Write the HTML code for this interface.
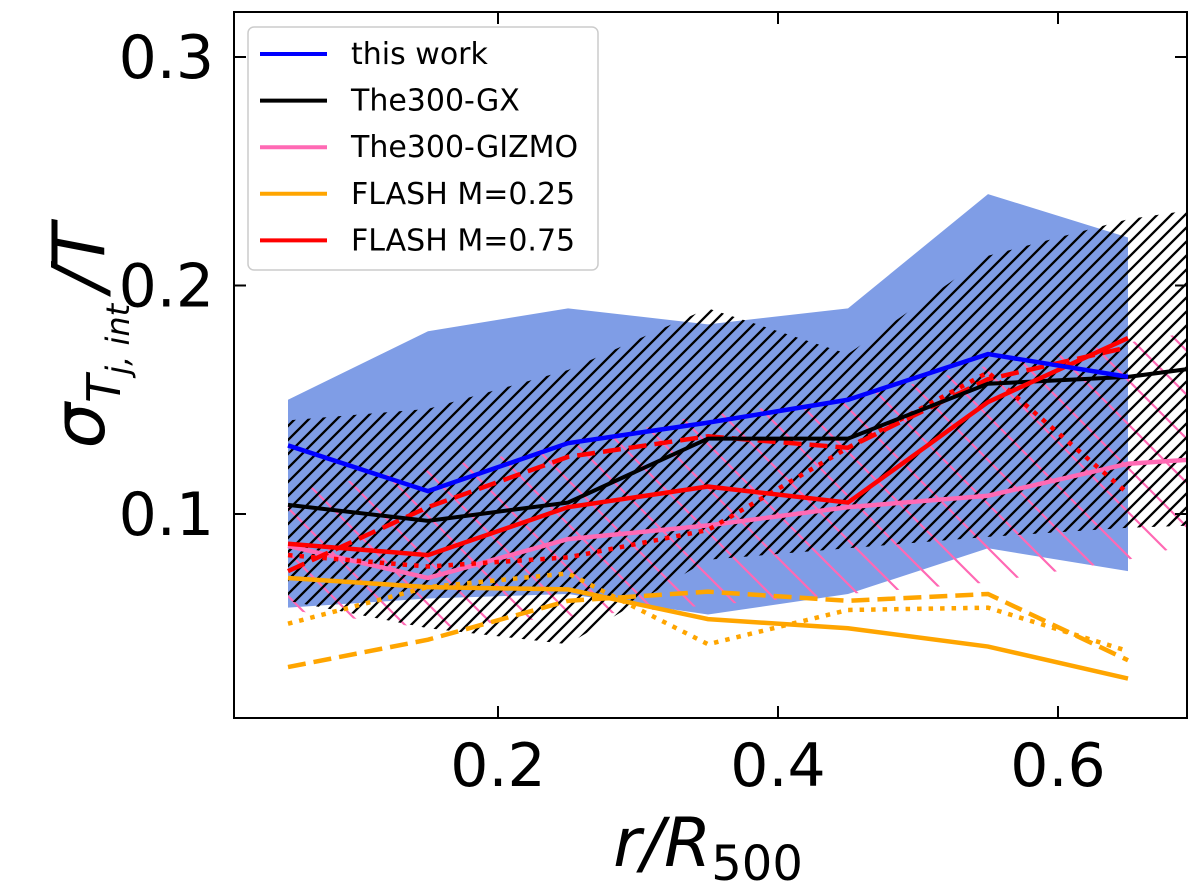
<!DOCTYPE html>
<html><head><meta charset="utf-8"><style>
body{margin:0;background:#fff;width:1200px;height:885px;overflow:hidden}
svg{font-family:"DejaVu Sans","Liberation Sans",sans-serif}
</style></head><body>
<svg id="chart" width="1200" height="885">
<defs>
<pattern id="hatchBlack" patternUnits="userSpaceOnUse" width="14" height="14"><path d="M-2,2 l4,-4 M0,14 l14,-14 M12,16 l4,-4" stroke="#000" stroke-width="2.3"/></pattern>
<pattern id="hatchPink" patternUnits="userSpaceOnUse" width="44" height="44"><path d="M-11,33 l22,22 M0,0 l44,44 M33,-11 l22,22" stroke="#ff69b4" stroke-width="2.2"/></pattern>
<clipPath id="plotClip"><rect x="234" y="12" width="953" height="706"/></clipPath>
</defs>
<g id="bands" clip-path="url(#plotClip)"></g>
<g id="lines" clip-path="url(#plotClip)"></g>
<rect x="234" y="12" width="953" height="706" fill="none" stroke="#000" stroke-width="2"/>
<g id="axes"></g>
<text x="0" y="0" transform="translate(104,336) rotate(-90)" text-anchor="middle" font-size="72" font-style="italic">σ<tspan font-size="46" dy="16">T</tspan><tspan font-size="32" dy="9">j, int</tspan><tspan font-size="72" dy="-25" dx="12">/T</tspan></text>
<text x="708" y="866" text-anchor="middle" font-size="68" font-style="italic">r/R<tspan font-size="48" dy="14" font-style="normal">500</tspan></text>
<g id="legend">
<rect x="248" y="27" width="350" height="243" rx="6" fill="#fff" fill-opacity="0.85" stroke="#ccc" stroke-width="1.5"/>
</g>
</svg>
<script>
const rVals=[0.05,0.15,0.25,0.35,0.45,0.55,0.65];
const rExt=[0.05,0.15,0.25,0.35,0.45,0.55,0.65,0.75];
const thisWork=[0.130,0.110,0.131,0.140,0.150,0.170,0.160];
const thisWorkUp=[0.150,0.180,0.190,0.183,0.190,0.240,0.221];
const thisWorkLo=[0.059,0.063,0.065,0.056,0.065,0.085,0.075];
const gx=[0.104,0.097,0.105,0.133,0.133,0.157,0.160,0.168];
const gxUp=[0.141,0.146,0.163,0.190,0.170,0.213,0.229,0.238];
const gxLo=[0.062,0.050,0.043,0.080,0.085,0.090,0.094,0.096];
const gizmo=[0.086,0.072,0.089,0.095,0.103,0.108,0.122,0.126];
const gizmoUp=[0.110,0.120,0.130,0.144,0.150,0.165,0.175,0.185];
const gizmoLo=[0.058,0.050,0.055,0.060,0.065,0.070,0.080,0.095];
const m75Solid=[0.087,0.082,0.103,0.112,0.105,0.149,0.177];
const m75Dash=[0.075,0.103,0.125,0.134,0.129,0.159,0.173];
const m75Dot=[0.082,0.077,0.081,0.093,0.129,0.162,0.109];
const m25Solid=[0.072,0.068,0.067,0.054,0.050,0.042,0.028];
const m25Dash=[0.033,0.045,0.062,0.066,0.062,0.065,0.036];
const m25Dot=[0.052,0.068,0.074,0.043,0.058,0.059,0.040];
const yTicks=[0.1,0.2,0.3];
const xTicks=[0.2,0.4,0.6];
const legendLabels=["this work","The300-GX","The300-GIZMO","FLASH M=0.25","FLASH M=0.75"];
const legendColors=["#0000ff","#000000","#ff69b4","#ffa500","#ff0000"];

const X=v=>218+v*1400;
const Y=v=>742.5-v*2285;
const NS="http://www.w3.org/2000/svg";
function mk(tag,parent){const e=document.createElementNS(NS,tag);document.getElementById(parent).appendChild(e);return e;}
function pts(xs,ys){return xs.map((x,i)=>X(x)+","+Y(ys[i])).join(" ");}
function band(xs,up,lo,fill,name){
  const p=mk("polygon","bands");
  p.setAttribute("points",pts(xs,up)+" "+pts(xs.slice().reverse(),lo.slice().reverse()));
  p.setAttribute("fill",fill);
  
  
}
band(rVals,thisWorkUp,thisWorkLo,"#7f9de6","this-work-band");
band(rExt,gizmoUp,gizmoLo,"url(#hatchPink)","gizmo-band");
band(rExt,gxUp,gxLo,"url(#hatchBlack)","gx-band");
function line(xs,ys,color,w,dash,name){
  const p=mk("polyline","lines");
  p.setAttribute("points",pts(xs,ys));
  p.setAttribute("fill","none");p.setAttribute("stroke",color);p.setAttribute("stroke-width",w);
  if(dash)p.setAttribute("stroke-dasharray",dash);
  
  
}
line(rVals,m25Dash,"#ffa500",4.5,"18,8","flash-m025-dashed");
line(rVals,m25Dot,"#ffa500",4.5,"4.5,7","flash-m025-dotted");
line(rVals,m25Solid,"#ffa500",4.5,null,"flash-m025-line");
line(rExt,gizmo,"#ff69b4",4.5,null,"gizmo-line");
line(rVals,m75Dot,"#ff0000",4.5,"4.5,7","flash-m075-dotted");
line(rVals,m75Dash,"#ff0000",4.5,"18,8","flash-m075-dashed");
line(rExt,gx,"#000",4,null,"gx-line");
line(rVals,m75Solid,"#ff0000",4.5,null,"flash-m075-line");
line(rVals,thisWork,"#0000ff",4.5,null,"this-work-line");

yTicks.forEach(v=>{
  const t=mk("line","axes");t.setAttribute("x1",234);t.setAttribute("x2",246);t.setAttribute("y1",Y(v));t.setAttribute("y2",Y(v));t.setAttribute("stroke","#000");t.setAttribute("stroke-width",2);
  
  
  const r=mk("line","axes");r.setAttribute("x1",1175);r.setAttribute("x2",1187);r.setAttribute("y1",Y(v));r.setAttribute("y2",Y(v));r.setAttribute("stroke","#000");r.setAttribute("stroke-width",2);
  
  
  const l=mk("text","axes");l.textContent=v.toFixed(1);l.setAttribute("x",214);l.setAttribute("y",Y(v)+21);l.setAttribute("text-anchor","end");l.setAttribute("font-size",60);
  
  
});
xTicks.forEach(v=>{
  const t=mk("line","axes");t.setAttribute("x1",X(v));t.setAttribute("x2",X(v));t.setAttribute("y1",706);t.setAttribute("y2",718);t.setAttribute("stroke","#000");t.setAttribute("stroke-width",2);
  
  
  const u=mk("line","axes");u.setAttribute("x1",X(v));u.setAttribute("x2",X(v));u.setAttribute("y1",12);u.setAttribute("y2",24);u.setAttribute("stroke","#000");u.setAttribute("stroke-width",2);
  
  
  const l=mk("text","axes");l.textContent=v.toFixed(1);l.setAttribute("x",X(v));l.setAttribute("y",786);l.setAttribute("text-anchor","middle");l.setAttribute("font-size",60);
  
  
});
legendLabels.forEach((s,i)=>{
  const y=54+i*46.6;
  const l=mk("line","legend");l.setAttribute("x1",260);l.setAttribute("x2",327);l.setAttribute("y1",y);l.setAttribute("y2",y);l.setAttribute("stroke",legendColors[i]);l.setAttribute("stroke-width",4);
  
  
  const t=mk("text","legend");t.textContent=s;t.setAttribute("x",351);t.setAttribute("y",y+10);t.setAttribute("font-size",30);
  
  
});
</script>
</body></html>
